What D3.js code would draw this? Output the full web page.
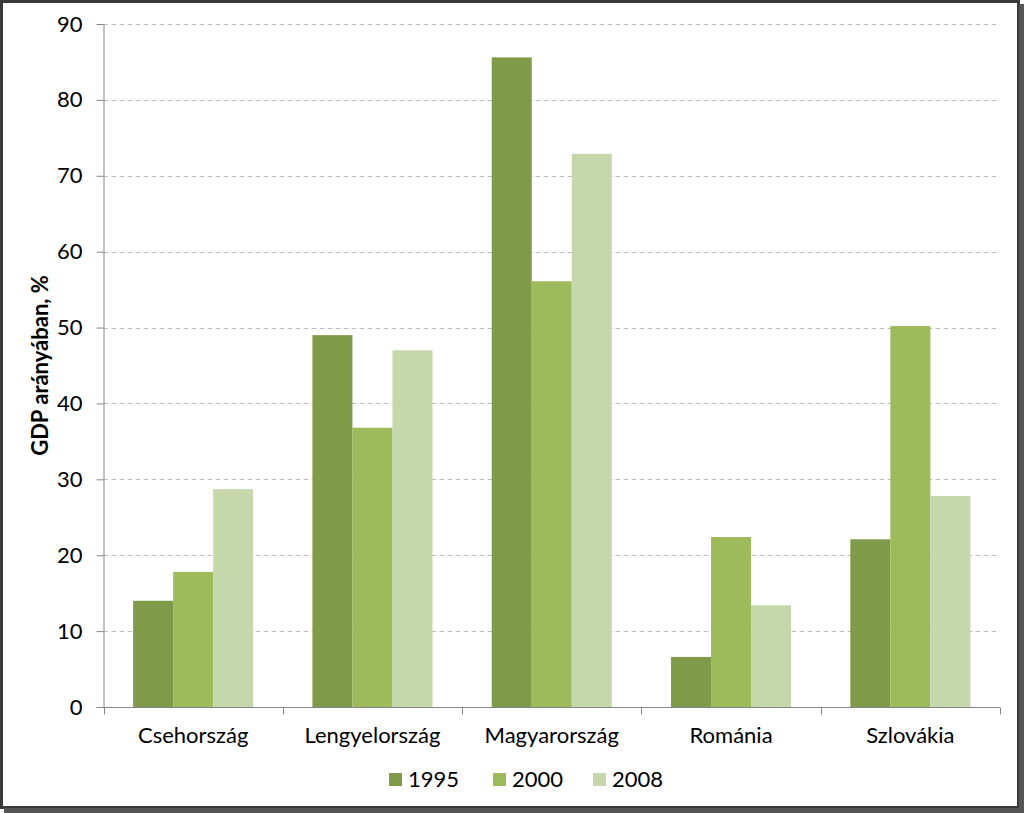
<!DOCTYPE html>
<html><head><meta charset="utf-8">
<script src="https://cdn.jsdelivr.net/npm/d3@7"></script>
<style>body{margin:0;background:#fff}svg{display:block}</style>
</head><body><svg id="c" width="1024" height="813"></svg>
<script>
const categories = ["Csehország","Lengyelország","Magyarország","Románia","Szlovákia"];
const seriesNames = ["1995","2000","2008"];
const v1995 = [14.0, 49.0, 85.6, 6.6, 22.1];
const v2000 = [17.8, 36.8, 56.1, 22.4, 50.2];
const v2008 = [28.7, 47.0, 72.9, 13.4, 27.8];
const yTicks = [0,10,20,30,40,50,60,70,80,90];
const colors = ["#7f9b4a","#9dbb5b","#c6d7ab"];
const seriesVals = [v1995, v2000, v2008];

const svg = d3.select("#c");
const font = "Lato, 'Open Sans', sans-serif";
// frame
svg.append("rect").attr("x",0).attr("y",0).attr("width",1024).attr("height",813).attr("fill","#fff");
svg.append("rect").attr("x",1.5).attr("y",1.5).attr("width",1017).attr("height",806).attr("fill","none").attr("stroke","#3a3a3a").attr("stroke-width",3);
svg.append("rect").attr("x",1019).attr("y",4).attr("width",5).attr("height",809).attr("fill","#555");
svg.append("rect").attr("x",4).attr("y",808).attr("width",1020).attr("height",5).attr("fill","#555");

const L=103.5, R=1000, T=24, B=707;
const x0 = d3.scaleBand().domain(categories).range([L,R]).paddingInner(0).paddingOuter(0);
const x1 = d3.scaleBand().domain(seriesNames).range([0,x0.bandwidth()]).paddingInner(0).paddingOuter(0.74);
const y = d3.scaleLinear().domain([0,90]).range([B,T]);

// gridlines
svg.append("g").selectAll("line").data(yTicks.filter(d=>d>0)).join("line")
  .attr("x1",L).attr("x2",R).attr("y1",d=>Math.round(y(d))+0.5).attr("y2",d=>Math.round(y(d))+0.5)
  .attr("stroke","#bfbfbf").attr("stroke-dasharray","5,3").attr("stroke-width",1);

// bars
categories.forEach((c,i)=>{
  seriesNames.forEach((s,j)=>{
    svg.append("rect").attr("x",x0(c)+x1(s)).attr("width",x1.bandwidth())
      .attr("y",y(seriesVals[j][i])).attr("height",B-y(seriesVals[j][i])).attr("fill",colors[j]);
  });
});

// y axis
const ya = svg.append("g").attr("transform",`translate(${L},0)`)
  .call(d3.axisLeft(y).tickValues(yTicks).tickSize(7).tickPadding(14).tickFormat(d3.format("d")));
ya.select(".domain").attr("stroke","#868686").attr("d",`M0.5,${T}V${B}`);
ya.selectAll(".tick line").attr("stroke","#868686");
ya.selectAll("text").attr("font-family",font).attr("font-size",22).attr("fill","#000");

// x axis
const xa = svg.append("g").attr("transform",`translate(0,${B+0.5})`);
xa.append("line").attr("x1",L-7).attr("x2",R).attr("stroke","#868686");
const bounds = categories.map(c=>x0(c)).concat([R]);
xa.selectAll(".tk").data(bounds).join("line").attr("class","tk")
  .attr("x1",d=>Math.round(d)+0.5).attr("x2",d=>Math.round(d)+0.5).attr("y1",0).attr("y2",7).attr("stroke","#868686");
xa.selectAll("text").data(categories).join("text")
  .attr("x",d=>x0(d)+x0.bandwidth()/2).attr("y",35).attr("text-anchor","middle")
  .attr("font-family",font).attr("font-size",22).attr("fill","#000").text(d=>d);

// y title
svg.append("text").attr("transform",`translate(48,${(T+B)/2}) rotate(-90)`).attr("text-anchor","middle")
  .attr("font-family",font).attr("font-size",22).attr("font-weight","bold").text("GDP arányában, %");

// legend
const legX = [389, 493, 593];
seriesNames.forEach((s,j)=>{
  svg.append("rect").attr("x",legX[j]).attr("y",773).attr("width",13).attr("height",13).attr("fill",colors[j]);
  svg.append("text").attr("x",legX[j]+19).attr("y",787).attr("font-family",font).attr("font-size",22).text(s);
});
</script></body></html>
